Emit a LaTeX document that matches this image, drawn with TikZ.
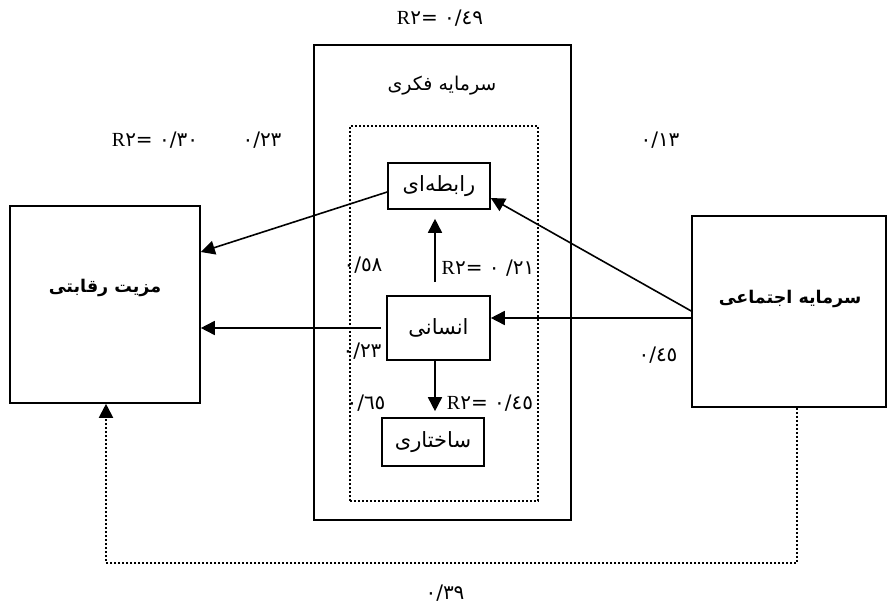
\documentclass[tikz,border=0pt]{standalone}
\usepackage{fontspec}
\setmainfont{Liberation Serif}
\newfontfamily\arfont[Script=Arabic]{DejaVu Sans}
\newfontfamily\digfont{DejaVu Sans}
\TeXXeTstate=1
\usetikzlibrary{arrows.meta}
\begin{document}
\begin{tikzpicture}[x=1pt,y=-1pt,
  box/.style={draw,line width=1.6pt,inner sep=0pt},
  dotbox/.style={draw,line width=2pt,dash pattern=on 2pt off 2pt,inner sep=0pt},
  arr/.style={line width=1.6pt,-{Triangle[length=14pt,width=14pt]}},
  dotarr/.style={line width=2pt,dash pattern=on 2pt off 2pt,-{Triangle[length=14pt,width=14pt]}},
  lbl/.style={font=\fontsize{21}{24}\selectfont\arfont,inner sep=0pt},
  blbl/.style={font=\fontsize{17.5}{20}\selectfont\arfont\bfseries,inner sep=0pt},
  num/.style={font=\fontsize{20}{22}\selectfont,inner sep=0pt}]
\useasboundingbox[fill=white] (0,0) rectangle (889,612);
% boxes
\node[box,minimum width=257pt,minimum height=475pt] (outer) at (442.5,282.5) {};
\node[dotbox,minimum width=188pt,minimum height=375pt] (inner) at (444,313.5) {};
\node[box,minimum width=190pt,minimum height=197pt] (adv) at (105,304.5) {};
\node[box,minimum width=194pt,minimum height=191pt] (soc) at (789,311.5) {};
\node[box,fill=white,minimum width=102pt,minimum height=46pt,lbl] (rabete) at (439,186) {رابطه‌ای};
\node[box,fill=white,minimum width=103pt,minimum height=64pt,lbl] (ensani) at (438.5,328) {انسانی};
\node[box,fill=white,minimum width=102pt,minimum height=48pt,lbl] (sakht) at (433,442) {ساختاری};
% titles
\node[blbl] (advt) at (105,288) {\beginR مزیت رقابتی\endR};
\node[blbl] (soct) at (790,299) {\beginR سرمایه اجتماعی\endR};
\node[lbl,font=\fontsize{19}{22}\selectfont\arfont] (ict) at (442,86) {\beginR سرمایه فکری\endR};
% connectors
\draw[arr] ([yshift=-6pt]rabete.west) -- ([yshift=52.5pt]adv.east);
\draw[arr] ([xshift=-5pt]ensani.west) -- (adv.east |- ensani.west);
\draw[arr,shorten <=13pt,shorten >=9pt] ([xshift=-3.5pt]ensani.north) -- ([xshift=-3.5pt]ensani.north |- rabete.south);
\draw[arr,shorten >=6pt] ([xshift=-3.5pt]ensani.south) -- ([xshift=-3.5pt]ensani.south |- sakht.north);
\draw[arr] (soc.west |- ensani.east) ++(0,-10) -- ([yshift=10pt]ensani.east);
\draw[arr] ([yshift=0.5pt]soc.west) -- ([yshift=-12pt]rabete.east);
\coordinate (bl) at (106,563);
\draw[dotarr] ([xshift=8pt]soc.south) |- (bl) -- (bl |- adv.south);
% numbers
\node[num] (n1) at (440,18) {R\digfont ٢= ٠/٤٩};
\node[num] (n2) at (155,140) {R\digfont ٢= ٠/٣٠};
\node[num] (n3) at (262,140) {\digfont ٠/٢٣};
\node[num] (n4) at (660,140) {\digfont ٠/١٣};
\node[num] (n5) at (363,265) {\digfont ٠/٥٨};
\node[num] (n6) at (488,268) {R\digfont ٢= ٠ /٢١};
\node[num] (n7) at (362,351) {\digfont ٠/٢٣};
\node[num] (n8) at (366,403) {\digfont ٠/٦٥};
\node[num] (n9) at (490,403) {R\digfont ٢= ٠/٤٥};
\node[num] (n10) at (658,355) {\digfont ٠/٤٥};
\node[num] (n11) at (445,593) {\digfont ٠/٣٩};
\end{tikzpicture}
\end{document}
